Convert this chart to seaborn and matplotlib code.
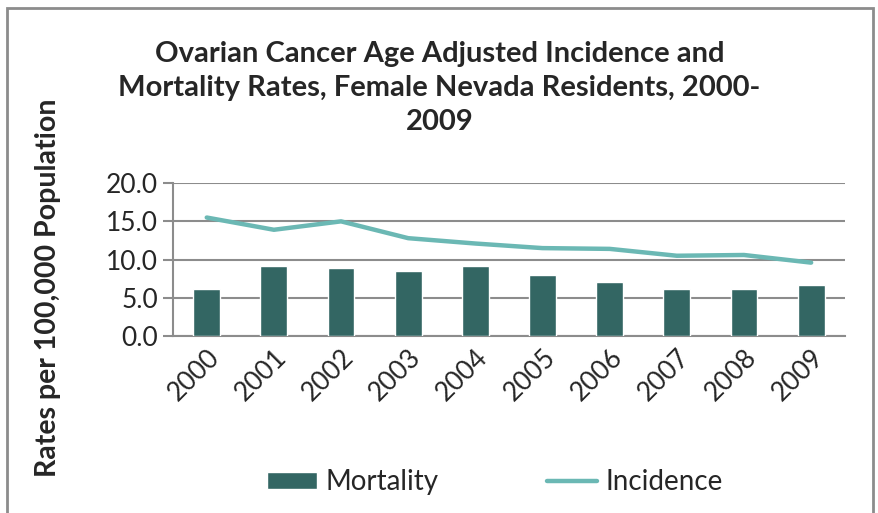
import matplotlib
matplotlib.use("Agg")
import matplotlib.pyplot as plt
import seaborn as sns
import pandas as pd
from matplotlib.patches import Rectangle

# Chart data
years = ["2000", "2001", "2002", "2003", "2004", "2005", "2006", "2007", "2008", "2009"]
mortality = [6.2, 9.2, 8.9, 8.5, 9.2, 8.0, 7.1, 6.2, 6.2, 6.7]
incidence = [15.5, 13.9, 15.0, 12.8, 12.1, 11.5, 11.4, 10.5, 10.6, 9.6]

BAR_COLOR = "#336663"
LINE_COLOR = "#6BB8B4"
GRID_COLOR = "#8C8C8C"

sns.set_style("white")
plt.rcParams["font.family"] = ["Lato", "DejaVu Sans"]

df = pd.DataFrame({"year": years, "Mortality": mortality, "Incidence": incidence})

fig = plt.figure(figsize=(8.79, 5.13), dpi=100)
ax = fig.add_axes([0.197, 0.345, 0.764, 0.298])

sns.barplot(data=df, x="year", y="Mortality", color=BAR_COLOR, width=0.4,
            saturation=1, label="Mortality", ax=ax, zorder=3)
sns.lineplot(x=range(len(years)), y=df["Incidence"], color=LINE_COLOR,
             linewidth=3.2, label="Incidence", ax=ax, zorder=4,
             solid_capstyle="round")

ax.set_xlim(-0.5, len(years) - 0.5)
ax.set_ylim(0, 20)
ax.set_yticks([0, 5, 10, 15, 20])
ax.set_yticklabels([f"{v:.1f}" for v in [0, 5, 10, 15, 20]], fontsize=19)
ax.yaxis.grid(True, color=GRID_COLOR, linewidth=1.5, zorder=0)
ax.set_axisbelow(True)
ax.tick_params(axis="y", length=7, width=1.5, color=GRID_COLOR, pad=4, left=True)
ax.tick_params(axis="x", length=0, pad=6)
plt.setp(ax.get_xticklabels(), rotation=45, ha="right", rotation_mode="anchor",
         fontsize=19)
ax.set_xlabel("")
ax.set_ylabel("")
for side in ["top", "right"]:
    ax.spines[side].set_visible(False)
ax.spines["bottom"].set_color(GRID_COLOR)
ax.spines["bottom"].set_linewidth(1.5)
ax.spines["left"].set_color(GRID_COLOR)
ax.spines["left"].set_linewidth(1.5)

fig.text(0.5, 0.828, "Ovarian Cancer Age Adjusted Incidence and\n"
         "Mortality Rates, Female Nevada Residents, 2000-\n2009",
         ha="center", va="center", fontsize=21, fontweight="bold",
         linespacing=1.38)
fig.text(0.055, 0.44, "Rates per 100,000 Population", rotation=90,
         ha="center", va="center", fontsize=20.5, fontweight="bold")

handles, labels = ax.get_legend_handles_labels()
ax.get_legend().remove()
order = [labels.index("Mortality"), labels.index("Incidence")]
fig.legend([handles[i] for i in order], [labels[i] for i in order],
           loc="center", bbox_to_anchor=(0.563, 0.06), ncol=2,
           frameon=False, fontsize=20, handlelength=1.8, handleheight=0.55,
           handletextpad=0.3, columnspacing=3.9)

fig.patches.append(Rectangle((0.008, -0.01), 0.985, 0.995,
                             transform=fig.transFigure, fill=False,
                             edgecolor="#8C8C8C", linewidth=2))

fig.savefig("out.png", dpi=100)
